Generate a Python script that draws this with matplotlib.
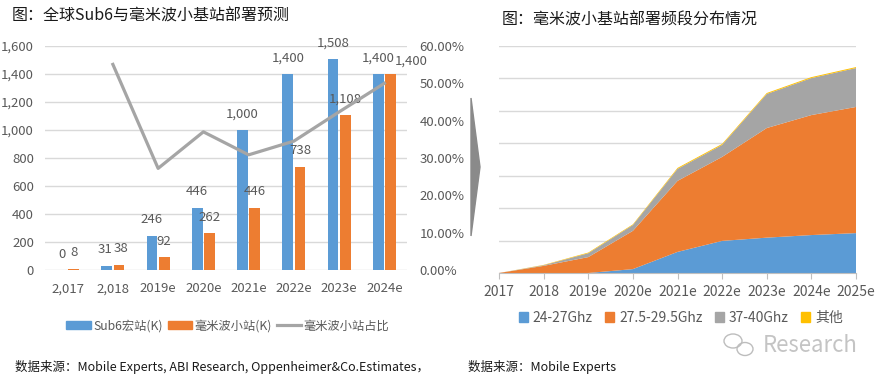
import numpy as np
import matplotlib
matplotlib.use('Agg')
import matplotlib.pyplot as plt
from matplotlib.patches import Patch, Polygon, Ellipse
from matplotlib.lines import Line2D
from matplotlib.ticker import FuncFormatter, PercentFormatter

plt.rcParams['font.family'] = ['Noto Sans CJK SC', 'DejaVu Sans']

# left chart data
years_l = ['2,017', '2,018', '2019e', '2020e', '2021e', '2022e', '2023e', '2024e']
sub6 = [0, 31, 246, 446, 1000, 1400, 1508, 1400]
mmw = [8, 38, 92, 262, 446, 738, 1108, 1400]

# right chart data (stacked areas)
years_r = ['2017', '2018', '2019e', '2020e', '2021e', '2022e', '2023e', '2024e', '2025e']
band_24 = [0, 0, 0, 1.2, 6.5, 9.9, 10.9, 11.7, 12.3]
band_28 = [0, 2.2, 4.9, 11.8, 21.9, 25.9, 33.8, 37.0, 38.9]
band_39 = [0, 0.2, 1.2, 1.8, 3.7, 3.7, 10.5, 11.4, 12.0]
band_other = [0, 0.1, 0.2, 0.2, 0.3, 0.3, 0.3, 0.3, 0.3]

blue = '#5B9BD5'
orange = '#ED7D31'
gray = '#A5A5A5'
yellow = '#FFC000'
txt = '#595959'
grid = '#D9D9D9'

W, H = 884, 381
fig = plt.figure(figsize=(W / 100, H / 100), dpi=100)

def box(x0, y0, x1, y1):
    return [x0 / W, 1 - y1 / H, (x1 - x0) / W, (y1 - y0) / H]

# ---------- left chart ----------
ax = fig.add_axes(box(45, 46, 407, 270))
x = np.arange(len(years_l))
bw = 0.24
off = 0.135
ax.bar(x - off, sub6, bw, color=blue, zorder=2)
ax.bar(x + off, mmw, bw, color=orange, zorder=2)
ax.set_xlim(-0.5, 7.5)
ax.set_ylim(0, 1600)
ax.set_yticks(np.arange(0, 1601, 200))
ax.yaxis.set_major_formatter(FuncFormatter(lambda v, p: f'{int(v):,}'))
ax.set_xticks(x)
ax.set_xticklabels(years_l)
ax.tick_params(axis='both', length=0, colors=txt, labelsize=9.5)
ax.tick_params(axis='y', pad=8)
ax.tick_params(axis='x', pad=9)
ax.grid(axis='y', color=grid, lw=1)
ax.set_axisbelow(True)
for s in ax.spines.values():
    s.set_visible(False)

for i in range(len(x)):
    d = 1.5 if i == 1 else 0
    ax.annotate(f'{sub6[i]:,}', (x[i] - off, sub6[i]), xytext=(-d, 11.5),
                textcoords='offset points', ha='center', va='center',
                fontsize=9.5, color=txt)
    dx = 15 if i == len(x) - 1 else d
    dy = 9.5 if i == len(x) - 1 else 11.5
    ax.annotate(f'{mmw[i]:,}', (x[i] + off, mmw[i]), xytext=(dx, dy),
                textcoords='offset points', ha='center', va='center',
                fontsize=9.5, color=txt)

ax2 = ax.twinx()
ratio = [np.nan] + [m / (s + m) for s, m in zip(sub6[1:], mmw[1:])]
ax2.plot(x, ratio, color=gray, lw=2.3, zorder=3)
ax2.set_ylim(0, 0.6)
ax2.set_yticks(np.arange(0, 0.61, 0.1))
ax2.yaxis.set_major_formatter(PercentFormatter(1.0, decimals=2))
ax2.tick_params(axis='y', length=0, colors=txt, labelsize=9.5, pad=9)
for s in ax2.spines.values():
    s.set_visible(False)

handles = [Patch(color=blue), Patch(color=orange), Line2D([], [], color=gray, lw=2.3)]
fig.legend(handles, ['Sub6宏站(K)', '毫米波小站(K)', '毫米波小站占比'],
           loc='center', bbox_to_anchor=(228 / W, 1 - 326 / H), ncol=3,
           frameon=False, fontsize=8.8, labelcolor=txt, handlelength=2.0,
           handleheight=0.55, handletextpad=0.2, columnspacing=0.4)

fig.text(12 / W, 1 - 16 / H, '图：全球Sub6与毫米波小基站部署预测', fontsize=11.5,
         va='center', ha='left', color='#1a1a1a')
fig.text(15 / W, 1 - 367 / H,
         '数据来源：Mobile Experts, ABI Research, Oppenheimer&Co.Estimates，',
         fontsize=9, va='center', ha='left', color='#1a1a1a')

# ---------- arrow between charts ----------
fig.patches.append(Polygon([(471 / W, 1 - 98 / H), (480 / W, 1 - 167 / H),
                            (471 / W, 1 - 236 / H)], closed=True,
                           transform=fig.transFigure, color='#8a8a8a'))

# ---------- right chart ----------
bx = fig.add_axes(box(499, 46, 856, 273))
xr = np.arange(len(years_r))
bx.stackplot(xr, band_24, band_28, band_39, band_other,
             colors=[blue, orange, gray, yellow], lw=0, zorder=2)
bx.set_xlim(0, len(xr) - 1)
bx.set_ylim(0, 70)
bx.set_yticks(np.arange(0, 71, 10))
bx.yaxis.set_ticklabels([])
bx.tick_params(axis='y', length=0)
bx.set_xticks(xr)
bx.set_xticklabels(years_r)
bx.tick_params(axis='x', length=4, colors='#BFBFBF', labelcolor=txt, labelsize=10, pad=5)
bx.grid(axis='y', color=grid, lw=1)
bx.set_axisbelow(True)
for k in ['top', 'left', 'right']:
    bx.spines[k].set_visible(False)
bx.spines['bottom'].set_color('#BFBFBF')

handles_r = [Patch(color=c) for c in [blue, orange, gray, yellow]]
fig.legend(handles_r, ['24-27Ghz', '27.5-29.5Ghz', '37-40Ghz', '其他'],
           loc='center', bbox_to_anchor=(681 / W, 1 - 318 / H), ncol=4,
           frameon=False, fontsize=10, labelcolor=txt, handlelength=0.65,
           handleheight=0.65, handletextpad=0.35, columnspacing=0.9)

fig.text(502 / W, 1 - 20 / H, '图：毫米波小基站部署频段分布情况', fontsize=11.5,
         va='center', ha='left', color='#1a1a1a')
fig.text(468 / W, 1 - 367 / H, '数据来源：Mobile Experts', fontsize=9,
         va='center', ha='left', color='#1a1a1a')

# watermark
fig.patches.append(Ellipse((733 / W, 1 - 341 / H), 18 / W, 14 / H, fill=False,
                           ec='#bdbdbd', lw=1, transform=fig.transFigure))
fig.patches.append(Ellipse((745 / W, 1 - 349 / H), 16 / W, 13 / H, fill=False,
                           ec='#bdbdbd', lw=1, transform=fig.transFigure))
fig.text(763 / W, 1 - 345 / H, 'Research', fontsize=16, color='#c4c4c4',
         va='center', ha='left')

fig.savefig('out.png', dpi=100)
